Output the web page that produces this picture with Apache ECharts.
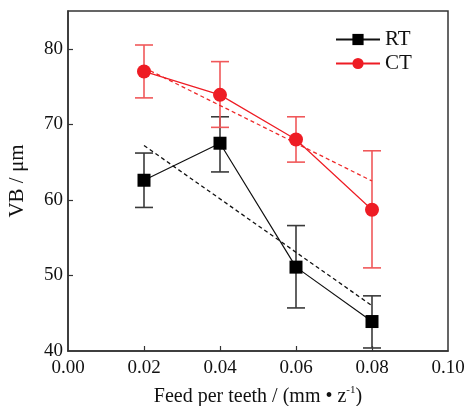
<!DOCTYPE html>
<html><head><meta charset="utf-8">
<script src="https://cdn.jsdelivr.net/npm/echarts@6/dist/echarts.min.js"></script>
<style>html,body{margin:0;padding:0;background:#fff}#c{width:469px;height:406px}</style>
</head><body><div id="c"></div>
<script>
const feeds = [0.02, 0.04, 0.06, 0.08];
const rtMean = [62.6, 67.5, 51.1, 43.9];
const rtLow = [59.0, 63.7, 45.7, 40.4];
const rtHigh = [66.2, 71.0, 56.6, 47.3];
const ctMean = [77.0, 73.9, 68.0, 58.7];
const ctLow = [73.5, 69.6, 65.0, 51.0];
const ctHigh = [80.5, 78.3, 71.0, 66.5];
const trendX = [0.02, 0.08];
const rtTrend = [67.2, 46.0];
const ctTrend = [77.5, 62.5];
const yTicks = [40, 50, 60, 70, 80];
const xTicks = [0, 0.02, 0.04, 0.06, 0.08, 0.1];

const font = '"Liberation Serif", "Times New Roman", serif';
const pairs = (xs, ys) => xs.map((x, i) => [x, ys[i]]);
const errData = (lo, hi) => feeds.map((x, i) => [x, lo[i], hi[i]]);

function errBar(color) {
  return function (params, api) {
    const x = api.value(0);
    const p1 = api.coord([x, api.value(1)]);
    const p2 = api.coord([x, api.value(2)]);
    const hw = 9;
    const st = { stroke: color, lineWidth: 1.6 };
    return { type: 'group', children: [
      { type: 'line', shape: { x1: p1[0], y1: p1[1], x2: p2[0], y2: p2[1] }, style: st },
      { type: 'line', shape: { x1: p1[0] - hw, y1: p1[1], x2: p1[0] + hw, y2: p1[1] }, style: st },
      { type: 'line', shape: { x1: p2[0] - hw, y1: p2[1], x2: p2[0] + hw, y2: p2[1] }, style: st }
    ]};
  };
}

const chart = echarts.init(document.getElementById('c'), null, { renderer: 'canvas' });
chart.setOption({
  animation: false,
  backgroundColor: '#fff',
  grid: { left: 68, right: 21, top: 11, bottom: 55, containLabel: false, outerBoundsMode: 'none', show: true, borderColor: '#333', borderWidth: 1.5, backgroundColor: 'transparent' },
  legend: {
    left: 335, top: 29, orient: 'vertical', itemWidth: 44, itemHeight: 14, itemGap: 3, padding: 0,
    textStyle: { fontFamily: font, fontSize: 21, color: '#111' },
    data: ['RT', 'CT']
  },
  xAxis: {
    type: 'value', min: 0, max: 0.1, interval: 0.02,
    axisLine: { lineStyle: { color: '#333', width: 1.5 } },
    axisTick: { inside: true, length: 5, lineStyle: { color: '#333', width: 1.2 }, customValues: xTicks.slice(1, -1) },
    axisLabel: { fontFamily: font, fontSize: 19, color: '#111', margin: 8, formatter: v => v.toFixed(2), customValues: xTicks },
    splitLine: { show: false },
    name: '{a|Feed per teeth / (mm • z}{b|-1}{a|)}',
    nameLocation: 'middle', nameGap: 34,
    nameTextStyle: { rich: {
      a: { fontFamily: font, fontSize: 20, color: '#111' },
      b: { fontFamily: font, fontSize: 11, color: '#111', verticalAlign: 'top', padding: [0, 0, 12, 0] }
    } }
  },
  yAxis: {
    type: 'value', min: 40, max: 85, interval: 10,
    axisLine: { lineStyle: { color: '#333', width: 1.5 } },
    axisTick: { inside: true, length: 5, lineStyle: { color: '#333', width: 1.2 }, customValues: yTicks.slice(1) },
    axisLabel: { fontFamily: font, fontSize: 19, color: '#111', margin: 5, customValues: yTicks },
    splitLine: { show: false },
    name: 'VB / μm', nameLocation: 'middle', nameGap: 40,
    nameTextStyle: { fontFamily: font, fontSize: 21, color: '#111' }
  },
  series: [
    { name: 'RT err', type: 'custom', renderItem: errBar('#3a3a3a'), data: errData(rtLow, rtHigh), z: 2, silent: true },
    { name: 'CT err', type: 'custom', renderItem: errBar('#f0585a'), data: errData(ctLow, ctHigh), z: 2, silent: true },
    { name: 'RT trend', type: 'line', data: pairs(trendX, rtTrend), showSymbol: false, lineStyle: { color: '#111', width: 1.3, type: [4, 3] }, z: 3 },
    { name: 'CT trend', type: 'line', data: pairs(trendX, ctTrend), showSymbol: false, lineStyle: { color: '#ee2a2a', width: 1.3, type: [4, 3] }, z: 3 },
    { name: 'RT', type: 'line', data: pairs(feeds, rtMean), symbol: 'rect', symbolSize: 13, itemStyle: { color: '#000' }, lineStyle: { color: '#111', width: 1.2 }, z: 4 },
    { name: 'CT', type: 'line', data: pairs(feeds, ctMean), symbol: 'circle', symbolSize: 14, itemStyle: { color: '#ee1c24' }, lineStyle: { color: '#ee1c24', width: 1.2 }, z: 4 }
  ]
});
</script></body></html>
